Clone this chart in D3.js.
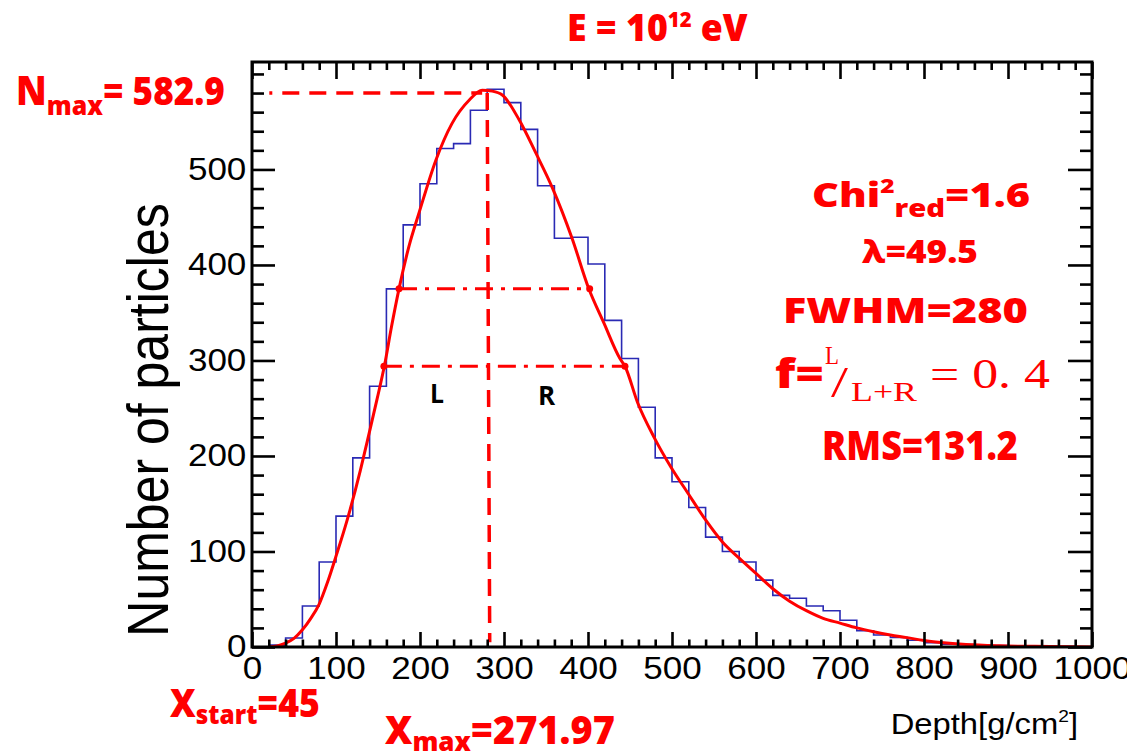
<!DOCTYPE html>
<html><head><meta charset="utf-8">
<script src="https://cdn.jsdelivr.net/npm/d3@7"></script>
<style>body{margin:0;background:#fff;} svg{display:block}</style>
</head><body>
<svg id="c" width="1127" height="753"></svg>
<script>
// ---------- data ----------
const binLow = [0,20,40,60,80,100,120,140,160,180,200,220,240,260,280,300,320,340,360,380,400,420,440,460,480,500,520,540,560,580,600,620,640,660,680,700,720,740,760,780,800,820,840,860,880,900,920,940,960,980];
const binWidth = 20;
const counts = [0,2,9.5,43,89,137,198,273,375,442,485,522,527,562,584,570,542,483,428,429,401,342,302,251,198,173,146,115,100,89,70,54,51,43,38,28,17,12.6,10,7,4.5,3,2.5,2,1.5,1,1,0.5,0.5,0];
const fitDepth = [20,30,40,50,60,70,80,90,100,113,129,139,149,158,166,175,187,199,219,238,259,274,286,298,318,338,358,381,401,419,438,444,459,479,499,519,540,560,580,600,620,640,660,680,700,720,740,760,780,800,820,850,890,950,1000];
const fitValue = [0,1,4,9,18,30,45,68,95,132,185,222,260,296,335,375,420,455,510,548,573,583,582,578,552,517,480,428,375,339,302,294,256,219,188,161,133,110,93,77,61,48,38,30,25,20,16,12.6,9.8,6.7,4.6,2.5,1.2,0.5,0];
const xTicks = [0,100,200,300,400,500,600,700,800,900,1000];
const yTicks = [0,100,200,300,400,500];
const xMinor = [20,40,60,80,120,140,160,180,220,240,260,280,320,340,360,380,420,440,460,480,520,540,560,580,620,640,660,680,720,740,760,780,820,840,860,880,920,940,960,980];
const yMinor = [20,40,60,80,120,140,160,180,220,240,260,280,320,340,360,380,420,440,460,480,520,540,560,580,600];
const nmaxLine = [[20.6, 580],[274, 580]];
const xmaxLine = [[280, 580],[283, 5]];
const upperLine = [[175, 375],[402, 375]];
const fwhmLine = [[157, 294],[444, 294]];

// ---------- layout ----------
const svg = d3.select("#c");
const L = 252, R = 1092, T = 62, B = 647;
const x = d3.scaleLinear().domain([0,1000]).range([L,R]);
const y = d3.scaleLinear().domain([0,612.5]).range([B,T]);
const RED = "#ff0000";
const SANS = "'Liberation Sans', Arial, Helvetica, sans-serif";
const BOLD = "'Open Sans', Lato, 'DejaVu Sans', sans-serif";
const SERIF = "'Liberation Serif', 'DejaVu Serif', serif";

svg.append("defs").append("clipPath").attr("id","plot")
  .append("rect").attr("x",L).attr("y",T).attr("width",R-L).attr("height",B-T);

// ---------- histogram ----------
const histPts = [[0,0]];
binLow.forEach((b,i)=>histPts.push([b, counts[i]]));
histPts.push([1000, counts[counts.length-1]]);
svg.append("path").attr("clip-path","url(#plot)")
  .attr("d", d3.line().x(d=>x(d[0])).y(d=>y(d[1])).curve(d3.curveStepAfter)(histPts))
  .attr("fill","none").attr("stroke","#2a2ab4").attr("stroke-width",1.6);

// ---------- fit curve ----------
svg.append("path").attr("clip-path","url(#plot)")
  .attr("d", d3.line().x((d,i)=>x(fitDepth[i])).y((d,i)=>y(fitValue[i])).curve(d3.curveMonotoneX)(fitDepth))
  .attr("fill","none").attr("stroke",RED).attr("stroke-width",3);

// ---------- annotation lines ----------
const lineGen = d3.line().x(d=>x(d[0])).y(d=>y(d[1]));
svg.append("path").attr("d", lineGen(nmaxLine)).attr("stroke",RED).attr("stroke-width",3.5)
  .attr("stroke-dasharray","17,10").attr("stroke-dashoffset",14).attr("fill","none");
svg.append("path").attr("d", lineGen(xmaxLine)).attr("stroke",RED).attr("stroke-width",3.5)
  .attr("stroke-dasharray","17,10").attr("fill","none");
[upperLine, fwhmLine].forEach(ln=>{
  svg.append("path").attr("d", lineGen(ln)).attr("stroke",RED).attr("stroke-width",3)
    .attr("stroke-dasharray","18,8,4,8").attr("fill","none");
  svg.selectAll(null).data(ln).enter().append("circle")
    .attr("cx",d=>x(d[0])).attr("cy",d=>y(d[1])).attr("r",3.5).attr("fill",RED);
});

// ---------- axes ----------
function styleAxis(g){ g.select(".domain").remove(); g.selectAll("line").attr("stroke","#000").attr("stroke-width",2.6); }
const SX = 1.13;
const fmt = d3.format("d");
svg.append("g").attr("transform",`translate(${L},0)`)
  .call(d3.axisLeft(y).tickValues(yMinor).tickSizeInner(-12).tickSizeOuter(0).tickFormat("")).call(styleAxis);
const gy = svg.append("g").attr("transform",`translate(${L},0)`)
  .call(d3.axisLeft(y).tickValues(yTicks).tickSizeInner(-23).tickSizeOuter(0).tickPadding(5).tickFormat(fmt)).call(styleAxis);
gy.selectAll("text").attr("font-family",SANS).attr("font-size",31).attr("fill","#000")
  .attr("transform",`scale(${SX},1)`);
svg.append("g").attr("transform",`translate(${R},0)`)
  .call(d3.axisRight(y).tickValues(yMinor).tickSizeInner(-12).tickSizeOuter(0).tickFormat("")).call(styleAxis);
svg.append("g").attr("transform",`translate(${R},0)`)
  .call(d3.axisRight(y).tickValues(yTicks).tickSizeInner(-24).tickSizeOuter(0).tickFormat("")).call(styleAxis);
svg.append("g").attr("transform",`translate(0,${B})`)
  .call(d3.axisBottom(x).tickValues(xMinor).tickSizeInner(-7.5).tickSizeOuter(0).tickFormat("")).call(styleAxis);
const gx = svg.append("g").attr("transform",`translate(0,${B})`)
  .call(d3.axisBottom(x).tickValues(xTicks).tickSizeInner(-15).tickSizeOuter(0).tickPadding(10).tickFormat(fmt)).call(styleAxis);
gx.selectAll("text").attr("font-family",SANS).attr("font-size",31).attr("fill","#000")
  .attr("transform",`scale(${SX},1)`);
svg.append("g").attr("transform",`translate(0,${T})`)
  .call(d3.axisTop(x).tickValues(xMinor).tickSizeInner(-8).tickSizeOuter(0).tickFormat("")).call(styleAxis);
svg.append("g").attr("transform",`translate(0,${T})`)
  .call(d3.axisTop(x).tickValues(xTicks).tickSizeInner(-17).tickSizeOuter(0).tickFormat("")).call(styleAxis);

// frame
svg.append("rect").attr("x",L).attr("y",T).attr("width",R-L).attr("height",B-T)
  .attr("fill","none").attr("stroke","#000").attr("stroke-width",3);

// axis titles
svg.append("text").attr("transform",`translate(168,420) rotate(-90) scale(1,1.14)`)
  .attr("text-anchor","middle").attr("font-family",SANS).attr("font-size",50).attr("fill","#000")
  .text("Number of particles");
const dt = svg.append("text").attr("font-family",SANS).attr("font-size",29).attr("fill","#000")
  .attr("text-anchor","end").attr("transform",`translate(1078,734) scale(${SX},1)`);
dt.append("tspan").text("Depth[g/cm");
dt.append("tspan").text("2").attr("font-size",17).attr("dy",-12);
dt.append("tspan").text("]").attr("dy",12);

// ---------- red annotation texts ----------
function placeText(parts, x0, x1, baseline, fill){
  const g = svg.append("g");
  const t = g.append("text").attr("fill", fill||RED);
  parts.forEach(p=>{
    t.append("tspan").text(p.t).attr("font-size",p.s)
      .attr("font-family",p.f||BOLD).attr("font-weight",p.w||800)
      .attr("dy",p.dy||0);
  });
  const bb = t.node().getBBox();
  const sx = (x1-x0)/bb.width;
  g.attr("transform",`translate(${x0 - bb.x*sx},${baseline}) scale(${sx},1)`);
}
placeText([{t:"E = 10",s:37},{t:"12",s:21,dy:-14},{t:" eV",s:37,dy:14}], 567, 748, 41);
placeText([{t:"N",s:40},{t:"max",s:27,dy:10},{t:"= 582.9",s:38,dy:-10}], 16, 225, 105);
placeText([{t:"X",s:38},{t:"start",s:26,dy:7},{t:"=45",s:38,dy:-7}], 170, 320, 717);
placeText([{t:"X",s:38},{t:"max",s:26,dy:7},{t:"=271.97",s:38,dy:-7}], 385, 615, 744);
placeText([{t:"Chi",s:34},{t:"2",s:20,dy:-14},{t:"red",s:24,dy:24},{t:"=1.6",s:34,dy:-10}], 812, 1030, 207);
placeText([{t:"λ=49.5",s:32}], 862, 978, 263);
placeText([{t:"FWHM=280",s:36}], 783, 1028, 323);
placeText([{t:"f=",s:40}], 775, 824, 388);
placeText([{t:"L",s:26,f:SERIF,w:400}], 825, 839, 364);
placeText([{t:"/",s:44,f:SERIF,w:400}], 831, 849, 397);
placeText([{t:"L+R",s:27,f:SERIF,w:400}], 851, 917, 401);
placeText([{t:"= 0. 4",s:42,f:SERIF,w:400}], 930, 1050, 388);
placeText([{t:"RMS=131.2",s:40}], 822, 1018, 460);
placeText([{t:"L",s:26,w:700}], 430, 444, 403, "#000");
placeText([{t:"R",s:26,w:700}], 538, 556, 405, "#000");
</script>
</body></html>
